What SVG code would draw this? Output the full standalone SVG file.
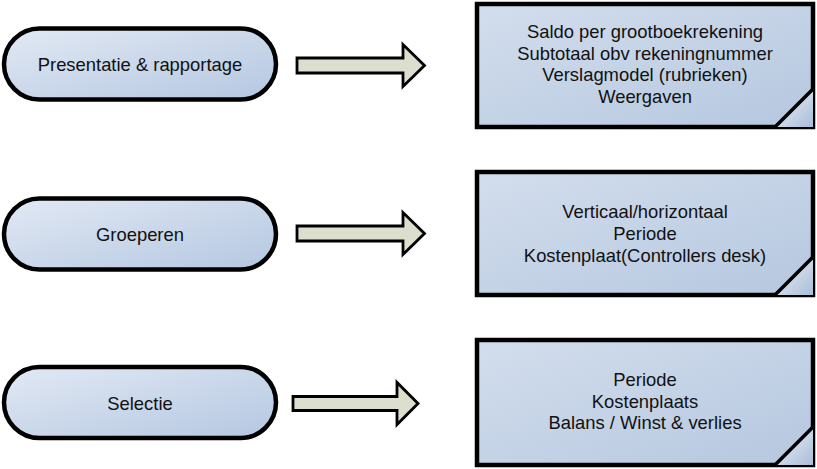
<svg xmlns="http://www.w3.org/2000/svg" width="817" height="469" viewBox="0 0 817 469">
<defs>
<linearGradient id="gPill" x1="0" y1="0" x2="1" y2="1">
<stop offset="0" stop-color="#e2e9f4"/>
<stop offset="1" stop-color="#b4c7e1"/>
</linearGradient>
<linearGradient id="gBox" x1="0" y1="0" x2="1" y2="1">
<stop offset="0" stop-color="#d3deed"/>
<stop offset="1" stop-color="#b5c7df"/>
</linearGradient>
<linearGradient id="gFold" x1="0" y1="0" x2="1" y2="1">
<stop offset="0" stop-color="#f4f6fa"/>
<stop offset="1" stop-color="#a9bcd8"/>
</linearGradient>
<style>
.pill{fill:url(#gPill);stroke:#000;stroke-width:4.5}
.box{fill:url(#gBox);stroke:#000;stroke-width:4.5}
.fold{fill:url(#gFold);stroke:none}
.foldline{stroke:#000;stroke-width:3.5;fill:none}
.arrow{fill:#dcdfce;stroke:#000;stroke-width:2.8;stroke-linejoin:miter}
text{font-family:"Liberation Sans",Arial,sans-serif;font-size:18.4px;fill:#111;text-anchor:middle}
</style>
</defs>
<g id="pill-presentatie">
<rect class="pill" x="4" y="28.5" width="272" height="71" rx="35.5"/>
<text x="140" y="71">Presentatie &amp; rapportage</text>
</g>
<g id="pill-groeperen">
<rect class="pill" x="4" y="198.5" width="272" height="71" rx="35.5"/>
<text x="140" y="241">Groeperen</text>
</g>
<g id="pill-selectie">
<rect class="pill" x="4" y="367" width="272" height="71" rx="35.5"/>
<text x="140" y="409.5">Selectie</text>
</g>
<g id="note-presentatie">
<rect class="box" x="477" y="4" width="336" height="123"/>
<polygon class="fold" points="775,127 813,89 813,127"/>
<line class="foldline" x1="775" y1="127" x2="813" y2="89"/>
<text x="645" y="38">Saldo per grootboekrekening</text>
<text x="645" y="59.5">Subtotaal obv rekeningnummer</text>
<text x="645" y="81">Verslagmodel (rubrieken)</text>
<text x="645" y="102.5">Weergaven</text>
</g>
<g id="note-groeperen">
<rect class="box" x="477" y="172" width="336" height="123"/>
<polygon class="fold" points="775,295 813,257 813,295"/>
<line class="foldline" x1="775" y1="295" x2="813" y2="257"/>
<text x="645" y="218">Verticaal/horizontaal</text>
<text x="645" y="240">Periode</text>
<text x="645" y="261.5">Kostenplaat(Controllers desk)</text>
</g>
<g id="note-selectie">
<rect class="box" x="477" y="340" width="336" height="125"/>
<polygon class="fold" points="775,465 813,427 813,465"/>
<line class="foldline" x1="775" y1="465" x2="813" y2="427"/>
<text x="645" y="386">Periode</text>
<text x="645" y="407.5">Kostenplaats</text>
<text x="645" y="429">Balans / Winst &amp; verlies</text>
</g>
<g id="connectors">
<path class="arrow" d="M297,58 L403,58 L403,44.5 L424.5,65.5 L403,86.5 L403,73 L297,73 Z"/>
<path class="arrow" d="M297,226 L403,226 L403,212.5 L424.5,233.5 L403,254.5 L403,241 L297,241 Z"/>
<path class="arrow" d="M293,396.5 L397,396.5 L397,382.5 L418,403.5 L397,424.5 L397,410.5 L293,410.5 Z"/>
</g>
</svg>
